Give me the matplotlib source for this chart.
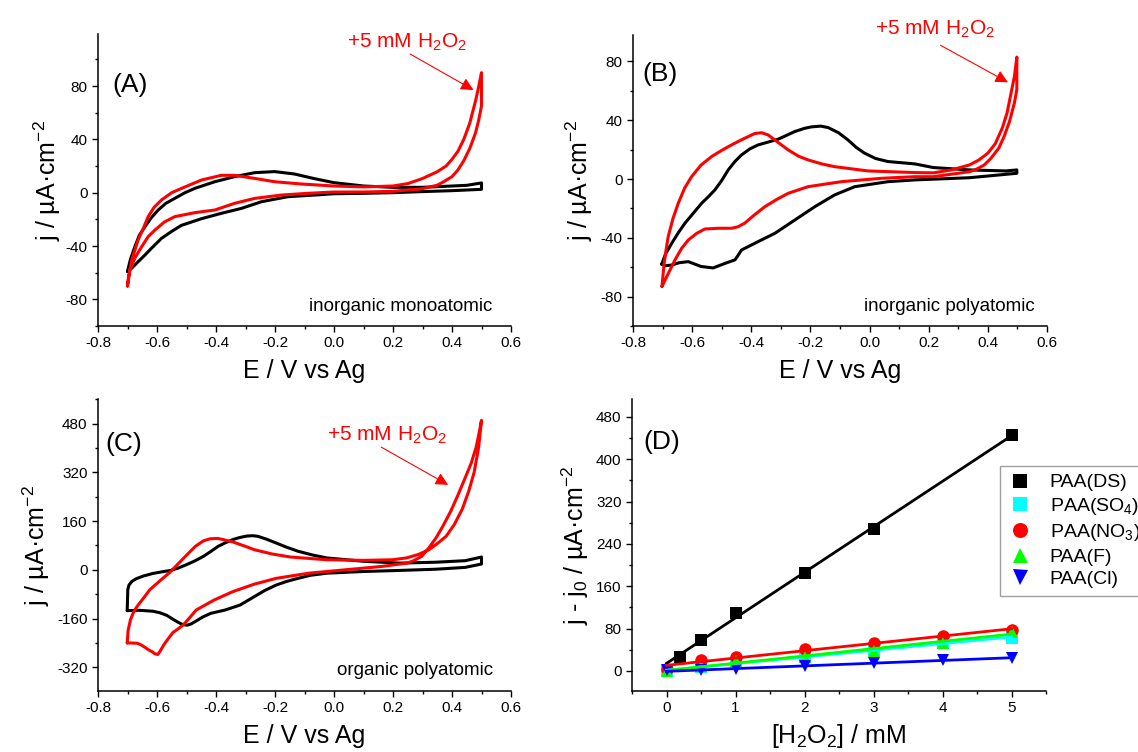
import numpy as np
import matplotlib
matplotlib.use("Agg")
import matplotlib.pyplot as plt
from matplotlib.ticker import MultipleLocator

plt.rcParams['font.family'] = ['Liberation Sans', 'DejaVu Sans']
plt.rcParams['mathtext.fontset'] = 'custom'
plt.rcParams['mathtext.rm'] = 'Liberation Sans'
plt.rcParams['mathtext.it'] = 'Liberation Sans:italic'
plt.rcParams['mathtext.bf'] = 'Liberation Sans:bold'
plt.rcParams['axes.unicode_minus'] = False

# ---------------- Panel A: inorganic monoatomic ----------------
a_black_E = [-0.70, -0.69, -0.675, -0.66, -0.641, -0.62, -0.596, -0.57, -0.54, -0.505, -0.472,
             -0.404, -0.337, -0.269, -0.201, -0.134, -0.066, 0.0, 0.1, 0.2, 0.3, 0.4, 0.45, 0.5,
             0.5, 0.4, 0.3, 0.2, 0.1, 0.0, -0.066, -0.156, -0.246, -0.314, -0.382,
             -0.449, -0.517, -0.55, -0.585, -0.62, -0.641, -0.665, -0.685, -0.70]
a_black_j = [-59, -50, -40.5, -32, -25.6, -19, -13, -8, -4.3, 0, 3.2,
             8.2, 12, 15, 15.8, 14, 10.5, 7.5, 5, 4, 4, 5, 5.5, 7.3,
             2.5, 1.5, 0.8, 0, -0.5, -0.8, -1.8, -3, -6.8, -11.8, -15.5,
             -19.5, -24.5, -29, -34.3, -42, -46.8, -52, -56.5, -59]
a_red_E = [-0.70, -0.697, -0.685, -0.664, -0.645, -0.63, -0.61, -0.585, -0.55, -0.517,
           -0.449, -0.382, -0.337, -0.269, -0.201, -0.111, 0.0, 0.1, 0.2, 0.25, 0.3, 0.35,
           0.38, 0.4, 0.42, 0.44, 0.46, 0.48, 0.49, 0.5,
           0.5, 0.49, 0.48, 0.46, 0.44, 0.42, 0.4, 0.37, 0.35, 0.3, 0.2, 0.1, 0.0, -0.09,
           -0.179, -0.269, -0.337, -0.404, -0.472, -0.54, -0.575, -0.607, -0.63, -0.652,
           -0.675, -0.692, -0.70]
a_red_j = [-70, -64, -50, -35.5, -26, -18, -11, -5.5, 0, 3.2,
           9.5, 13, 13, 10.7, 8.2, 6.5, 5, 4.3, 5, 6.8, 10.6, 15.7,
           20, 25, 31, 40, 52, 69, 79, 90,
           65, 54, 45, 33, 24, 17, 12, 8, 5.6, 3, 1, 0.5, 0.5, -0.5,
           -1.8, -4.3, -8, -13, -15, -18, -22, -28, -33, -40.5,
           -49, -58, -70]

# ---------------- Panel B: inorganic polyatomic ----------------
b_black_E = [-0.703, -0.69, -0.669, -0.645, -0.624, -0.595, -0.568, -0.545, -0.523, -0.50,
             -0.478, -0.455, -0.433, -0.405, -0.377, -0.309, -0.253, -0.22,
             -0.196, -0.165, -0.14, -0.105, -0.073, -0.045, -0.017, 0.02, 0.062, 0.153,
             0.216, 0.338, 0.461, 0.498,
             0.498, 0.338, 0.216, 0.153, 0.062, -0.05, -0.118, -0.185, -0.253, -0.32,
             -0.388, -0.433, -0.445, -0.455, -0.489, -0.529, -0.57, -0.613, -0.645,
             -0.669, -0.69, -0.703]
b_black_j = [-58, -51, -43.7, -36, -30, -23, -16.5, -12, -7.4, -1,
             6.2, 12, 16.4, 20.5, 23.2, 27.1, 32.3, 34.5,
             35.5, 36, 35, 31.5, 26.6, 21.5, 17.6, 14, 11.9, 10.3,
             7.8, 6.2, 5.5, 6.2,
             3.9, 0.9, -0.1, -0.6, -1.8, -5.2, -10.8, -18.8, -27.9, -36.9,
             -43.7, -48.3, -52, -55, -57.4, -60.5, -59.5, -56.2, -57,
             -58.5, -59, -58]
b_red_E = [-0.702, -0.695, -0.688, -0.681, -0.665, -0.647, -0.625, -0.602, -0.57, -0.534,
           -0.50, -0.467, -0.43, -0.388, -0.365, -0.343, -0.31, -0.275, -0.24, -0.208,
           -0.16, -0.118, -0.005, 0.153, 0.216, 0.277, 0.338, 0.37, 0.4, 0.425, 0.449,
           0.465, 0.48, 0.49, 0.498,
           0.498, 0.49, 0.473, 0.455, 0.437, 0.41, 0.388, 0.36, 0.338, 0.216, 0.153,
           0.04, -0.095, -0.208, -0.275, -0.315, -0.354, -0.39, -0.422, -0.445, -0.467,
           -0.51, -0.557, -0.585, -0.613, -0.635, -0.658, -0.68, -0.702]
b_red_j = [-73, -58, -48, -39.2, -27, -16.5, -6, 1.6, 9.5, 15.3,
           19.5, 23.2, 27, 31, 31.5, 30, 25, 19.8, 15.5, 13,
           10.2, 8.4, 5.5, 4.4, 4.2, 6.2, 9.6, 13, 17.6, 24, 34.8,
           45, 60, 70, 83,
           61, 52, 39, 29, 21, 14, 9.6, 6.5, 5, 1.6, 1.6,
           0.5, -1.8, -5.2, -9.7, -14, -18.8, -24.5, -30, -32.5, -33.5,
           -33.5, -34, -37, -41.5, -47, -55, -64, -73]

# ---------------- Panel C: organic polyatomic ----------------
c_black_E = [-0.701, -0.700, -0.699, -0.695, -0.685, -0.67, -0.645, -0.614, -0.58, -0.554,
             -0.53, -0.50, -0.47, -0.443, -0.418, -0.393, -0.368,
             -0.344, -0.32, -0.295, -0.275, -0.258, -0.23, -0.196, -0.16, -0.122, -0.07,
             -0.024, 0.1, 0.223, 0.346, 0.445, 0.5,
             0.5, 0.445, 0.346, 0.223, 0.1, -0.024, -0.08, -0.122, -0.16, -0.196, -0.235,
             -0.27, -0.319, -0.369, -0.418, -0.445, -0.467, -0.485, -0.498, -0.515, -0.529,
             -0.55, -0.566, -0.59, -0.614, -0.66, -0.701]
c_black_j = [-134, -100, -65, -50, -38, -29, -20, -12, -6, -2,
             5, 17, 30, 44, 60, 77, 89,
             99, 106, 111, 112, 110, 101, 88, 74, 61, 48,
             39, 28, 22, 25, 30, 42,
             19, 8, 2, -2, -5.5, -11, -18, -28, -38, -50, -68,
             -88, -116, -132, -143, -155, -168, -178, -182, -179, -172,
             -160, -150, -141, -136, -133, -134]
c_red_E = [-0.701, -0.698, -0.69, -0.68, -0.668, -0.645, -0.624, -0.59, -0.556, -0.53,
           -0.50, -0.47, -0.443, -0.42, -0.393, -0.344, -0.30,
           -0.27, -0.21, -0.147, -0.024, 0.1, 0.198, 0.245, 0.285, 0.32, 0.346, 0.38, 0.408,
           0.435, 0.457, 0.475, 0.49, 0.5,
           0.492, 0.482, 0.465, 0.445, 0.42, 0.396, 0.37, 0.346, 0.32, 0.297, 0.27, 0.248,
           0.161, 0.038, -0.085, -0.196, -0.27, -0.344, -0.406, -0.467, -0.49, -0.51,
           -0.53, -0.546, -0.565, -0.578, -0.59, -0.597, -0.607, -0.615, -0.63, -0.64,
           -0.655, -0.668, -0.701]
c_red_j = [-240, -200, -164, -140, -121, -92, -65, -36, -8, 18,
           48, 77, 95, 102, 103, 92, 77,
           66, 52, 42, 33, 31, 33, 39, 50, 65, 83, 110, 149,
           200, 259, 320, 400, 491,
           450, 403, 350, 303, 245, 193, 145, 105, 70, 44, 30, 22,
           11, 0, -11, -28, -47, -72, -99, -132, -158, -180,
           -195, -206, -230, -248, -268, -278, -276, -270, -262, -255,
           -246, -241, -240]

# ---------------- Panel D: calibration ----------------
conc_ds = [0.2, 0.5, 1, 2, 3, 5]
j_ds = [26, 58, 109, 185, 268, 446]
conc = [0, 0.5, 1, 2, 3, 4, 5]
j_so4 = [0, 8, 14, 27, 40, 52, 63]
j_no3 = [4, 20, 27, 41, 53, 66, 77]
j_f = [-1, 10, 18, 27, 38, 53, 74]
j_cl = [1, 1, 3, 9, 15, 20, 25]

series_labels = ['PAA(DS)', 'PAA(SO$_4$)', 'PAA(NO$_3$)', 'PAA(F)', 'PAA(Cl)']

# ---------------- figure ----------------
W, H = 1138, 752
fig = plt.figure(figsize=(W / 100, H / 100), dpi=100)

def px_axes(l, r, t, b):
    return fig.add_axes([l / W, 1 - b / H, (r - l) / W, (b - t) / H])

axA = px_axes(98, 511, 34, 326)
axB = px_axes(633, 1047, 35, 326)
axC = px_axes(98, 511, 399, 691)
axD = px_axes(632, 1046, 399, 691)

TICK_FS = 11
LABEL_FS = 18
PANEL_FS = 19
ANN_FS = 15
NOTE_FS = 13.5
XPAD = 6.5

def style(ax, xmaj, xmin, ymaj, ymin):
    for s in ['top', 'right']:
        ax.spines[s].set_visible(False)
    for s in ['left', 'bottom']:
        ax.spines[s].set_linewidth(1.1)
    ax.xaxis.set_major_locator(MultipleLocator(xmaj))
    ax.xaxis.set_minor_locator(MultipleLocator(xmin))
    ax.yaxis.set_major_locator(MultipleLocator(ymaj))
    ax.yaxis.set_minor_locator(MultipleLocator(ymin))
    ax.tick_params(which='major', direction='out', length=4.5, width=1.0,
                   labelsize=TICK_FS, pad=3)
    ax.tick_params(which='minor', direction='out', length=2.5, width=1.0)

lw = 2.2
ylab = 'j / µA·cm$^{-2}$'
xlab = 'E / V vs Ag'
h2o2 = '+5 mM H$_2$O$_2$'
arrow_kw = dict(arrowstyle='-|>', color='red', lw=0.8, mutation_scale=19,
                shrinkA=0, shrinkB=0)
line_kw = dict(lw=lw, solid_joinstyle='round', solid_capstyle='round')

# Panel A
axA.plot(a_black_E, a_black_j, color='black', **line_kw)
axA.plot(a_red_E, a_red_j, color='red', **line_kw)
axA.set_xlim(-0.8, 0.6)
axA.set_ylim(-100, 119)
style(axA, 0.2, 0.1, 40, 20)
axA.set_xlabel(xlab, fontsize=LABEL_FS, labelpad=XPAD)
axA.set_ylabel(ylab, fontsize=LABEL_FS, labelpad=2)
axA.text(-0.752, 81, '(A)', fontsize=PANEL_FS, ha='left', va='center')
axA.text(0.246, 109, h2o2, fontsize=ANN_FS, color='red', ha='center', va='baseline', clip_on=False)
axA.annotate('', xy=(0.473, 77), xytext=(0.258, 104), arrowprops=arrow_kw)
axA.text(0.538, -89, 'inorganic monoatomic', fontsize=NOTE_FS, ha='right', va='baseline')

# Panel B
axB.plot(b_black_E, b_black_j, color='black', **line_kw)
axB.plot(b_red_E, b_red_j, color='red', **line_kw)
axB.set_xlim(-0.8, 0.6)
axB.set_ylim(-100, 98)
style(axB, 0.2, 0.1, 40, 20)
axB.set_xlabel(xlab, fontsize=LABEL_FS, labelpad=XPAD)
axB.set_ylabel(ylab, fontsize=LABEL_FS)
axB.text(-0.767, 71.6, '(B)', fontsize=PANEL_FS, ha='left', va='center')
axB.text(0.222, 98, h2o2, fontsize=ANN_FS, color='red', ha='center', va='baseline', clip_on=False)
axB.annotate('', xy=(0.468, 65.8), xytext=(0.24, 91), arrowprops=arrow_kw)
axB.text(0.557, -90, 'inorganic polyatomic', fontsize=NOTE_FS, ha='right', va='baseline')

# Panel C
axC.plot(c_black_E, c_black_j, color='black', **line_kw)
axC.plot(c_red_E, c_red_j, color='red', **line_kw)
axC.set_xlim(-0.8, 0.6)
axC.set_ylim(-398, 561)
style(axC, 0.2, 0.1, 160, 80)
axC.set_xlabel(xlab, fontsize=LABEL_FS, labelpad=XPAD)
axC.set_ylabel(ylab, fontsize=LABEL_FS)
axC.text(-0.775, 414, '(C)', fontsize=PANEL_FS, ha='left', va='center')
axC.text(0.18, 425, h2o2, fontsize=ANN_FS, color='red', ha='center', va='baseline')
axC.annotate('', xy=(0.387, 279), xytext=(0.16, 403), arrowprops=arrow_kw)
axC.text(0.538, -345, 'organic polyatomic', fontsize=NOTE_FS, ha='right', va='baseline')

# Panel D
ms = 8
specs = [
    (conc_ds, j_ds, 's', 'black', ms),
    (conc, j_so4, 's', '#00FFFF', ms),
    (conc, j_no3, 'o', 'red', ms + 1),
    (conc, j_f, '^', '#00FF00', ms + 1),
    (conc, j_cl, 'v', 'blue', ms + 1),
]
handles = []
for (x, y, m, c, s), lab in zip(specs, series_labels):
    h, = axD.plot(x, y, linestyle='none', marker=m, color=c, markersize=s,
                  markeredgewidth=0, label=lab, zorder=3)
    handles.append(h)
xfit = np.array([0.0, 5.0])
for (x, y, m, c, s) in specs:
    k, b0 = np.polyfit(x, y, 1)
    axD.plot(xfit, k * xfit + b0, color=c, lw=2.0, zorder=4)
axD.set_xlim(-0.5, 5.5)
axD.set_ylim(-38, 514)
style(axD, 1, 0.5, 80, 40)
axD.set_xlabel('[H$_2$O$_2$] / mM', fontsize=LABEL_FS, labelpad=XPAD - 2)
axD.set_ylabel('j - j$_0$ / µA·cm$^{-2}$', fontsize=LABEL_FS)
axD.text(-0.34, 432, '(D)', fontsize=PANEL_FS, ha='left', va='center')
leg = axD.legend(handles=handles, loc='upper left',
                 bbox_to_anchor=(1000 / W, 1 - 466 / H), bbox_transform=fig.transFigure,
                 fontsize=14, frameon=True, fancybox=False, framealpha=1,
                 edgecolor='#a0a0a0', borderaxespad=0, handlelength=1.3,
                 handletextpad=0.85, labelspacing=0.25, borderpad=0.4, markerscale=1.2)
leg.get_frame().set_linewidth(1.0)

fig.savefig('out.png', dpi=100)
